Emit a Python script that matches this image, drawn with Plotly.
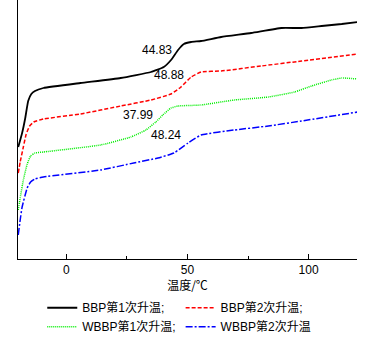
import plotly.graph_objects as go

# Temperatures (°C) and heat-flow (arbitrary units)
bbp1_t = [-19.9, -18.3, -17.0, -15.8, -14.5, -13.0, -9.5, 5.8, 22.4, 34.9, 40.2, 43.2, 46.1, 48.5, 51.5, 55.6, 63.9, 76.3, 88.8, 97.1, 105.4, 113.7, 120.3]
bbp1_y = [112, 126, 141, 158, 165, 168, 171, 176, 181, 187, 192, 199, 209, 215, 217, 218, 222, 226, 231, 231, 233, 235, 237]

bbp2_t = [-19.9, -19.1, -17.8, -16.6, -15.2, -13.5, -9.5, 5.8, 22.4, 34.9, 43.2, 47.3, 51.5, 55.6, 63.9, 80.5, 97.1, 120.3]
bbp2_y = [86, 97, 112, 125, 133, 137, 140, 145, 153, 159, 165, 172, 182, 187, 188, 193, 198, 205]

wbbp1_t = [-19.9, -19.1, -17.8, -16.2, -14.8, -13.0, -9.5, 14.1, 26.6, 32.8, 36.9, 39.8, 43.2, 46.1, 55.6, 69.3, 83.4, 94.2, 101.2, 109.5, 113.7, 120.3]
wbbp1_y = [49, 61, 79, 95, 103, 106, 107, 114, 122, 129, 137, 144, 151, 153, 154, 159, 162, 167, 173, 179, 181, 180]

wbbp2_t = [-19.9, -19.1, -18.3, -16.2, -14.8, -13.0, -9.5, 14.1, 27.8, 37.8, 44.4, 50.2, 55.6, 69.3, 83.4, 97.1, 120.3]
wbbp2_y = [24, 39, 52, 71, 77, 80, 82, 89, 96, 101, 106, 116, 124, 129, 133, 138, 147]

names = ["BBP第1次升温;", "BBP第2次升温;", "WBBP第1次升温;", "WBBP第2次升温"]

labels_text = ["44.83", "48.88", "37.99", "48.24"]
labels_t = [37.5, 42.5, 29.5, 41.0]
labels_y = [209, 184, 144, 124]

FONT = "Liberation Sans, Arial, Noto Sans CJK SC, sans-serif"

fig = go.Figure()
styles = [
    dict(color="black", width=1.8, dash="solid"),
    dict(color="#ff0000", width=1.5, dash="4px,2px"),
    dict(color="#00ee00", width=1.5, dash="1px,1px"),
    dict(color="#0000ff", width=1.5, dash="7px,2px,2px,2px"),
]
for t, y, n, s in zip([bbp1_t, bbp2_t, wbbp1_t, wbbp2_t], [bbp1_y, bbp2_y, wbbp1_y, wbbp2_y], names, styles):
    fig.add_trace(go.Scatter(x=t, y=y, mode="lines", name=n, line=dict(shape="spline", smoothing=0.4, **s)))

for txt, x, y in zip(labels_text, labels_t, labels_y):
    fig.add_annotation(x=x, y=y, text=txt, showarrow=False, font=dict(family=FONT, size=12, color="black"))

fig.update_layout(
    width=374, height=341,
    margin=dict(l=18, r=17, t=0, b=82, autoexpand=False),
    paper_bgcolor="white", plot_bgcolor="white",
    font=dict(family=FONT, size=12, color="black"),
    showlegend=True,
    legend=dict(orientation="h", x=0.113, xanchor="left", xref="container",
                y=0.14, yanchor="top", yref="container",
                font=dict(family=FONT, size=12), itemwidth=30, tracegroupgap=0,
                bgcolor="rgba(0,0,0,0)"),
    xaxis=dict(range=[-20, 120], showline=True, linecolor="black", linewidth=1,
               showgrid=False, zeroline=False, ticks="inside", ticklen=5, tickcolor="black",
               tickvals=[0, 50, 100], ticktext=["0", "50", "100"],
               minor=dict(tickvals=[25, 75], ticks="inside", ticklen=3, tickcolor="black"),
               title=dict(text="温度/℃", font=dict(family="Noto Sans CJK SC", size=12), standoff=6)),
    yaxis=dict(range=[0, 259], showline=True, linecolor="black", linewidth=1,
               showgrid=False, zeroline=False, showticklabels=False, ticks=""),
)

fig.write_html("out.html")
